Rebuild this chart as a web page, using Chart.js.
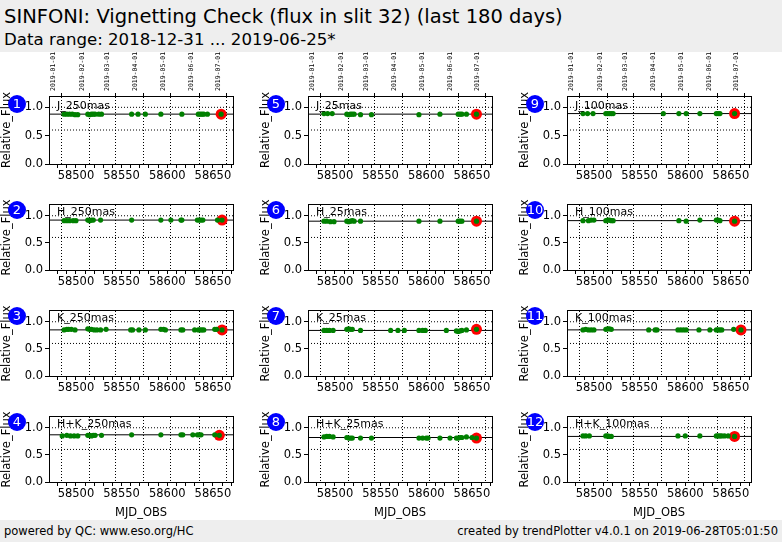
<!DOCTYPE html>
<html><head><meta charset="utf-8">
<script src="https://cdn.jsdelivr.net/npm/chart.js@4.4.0/dist/chart.umd.min.js"></script>
<style>
body{margin:0;width:782px;height:542px;position:relative;overflow:hidden;background:#fff;font-family:"DejaVu Sans",sans-serif}
#hdr{position:absolute;left:0;top:0;width:782px;height:52px;background:#eeeeee}
#t1{position:absolute;left:4px;top:5px;font-size:19.5px;color:#000}
#t2{position:absolute;left:4px;top:30px;font-size:16.6px;color:#000}
#ftr{position:absolute;left:0;top:520px;width:782px;height:22px;background:#eeeeee;font-size:11.5px;z-index:5}
#ftr span{position:absolute;top:4px}
.cv{position:absolute}
.num{position:absolute;width:18px;height:18px;border-radius:9px;background:#0000ff;color:#fff;font-size:13px;text-align:center;line-height:18px;z-index:3}
.lab{position:absolute;font-size:11px;color:#000;z-index:3}
</style></head><body>
<div id="hdr"><div id="t1">SINFONI: Vignetting Check (flux in slit 32) (last 180 days)</div><div id="t2">Data range: 2018-12-31 ... 2019-06-25*</div></div>
<div id="ftr"><span style="left:4px">powered by QC: www.eso.org/HC</span><span style="right:4px">created by trendPlotter v4.0.1 on 2019-06-28T05:01:50</span></div>
<script>
const xMin = 58470.5, xMax = 58672;
const dateTicks = [58484,58515,58543,58574,58604,58635,58665];
const dateLabels = ['2019-01-01','2019-02-01','2019-03-01','2019-04-01','2019-05-01','2019-06-01','2019-07-01'];
const refUpper = 1.0, refLower = 0.6;

const names = ['J_250mas','H_250mas','K_250mas','H+K_250mas','J_25mas','H_25mas','K_25mas','H+K_25mas','J_100mas','H_100mas','K_100mas','H+K_100mas'];
const medians = [0.88,0.92,0.85,0.87,0.88,0.90,0.84,0.82,0.89,0.91,0.85,0.84];

const mjd1 = [58487,58490,58493,58496,58499,58502,58513,58515,58517,58519,58521,58525,58528,58561,58568,58576,58593,58616,58634,58636,58638,58640,58644,58659];
const val1 = [0.88,0.88,0.88,0.88,0.87,0.87,0.88,0.87,0.88,0.88,0.88,0.88,0.88,0.88,0.88,0.88,0.88,0.88,0.88,0.88,0.88,0.88,0.88,0.88];
const mjd2 = [58487,58490,58493,58497,58500,58513,58515,58517,58519,58527,58561,58593,58604,58615,58616,58633,58635,58637,58639,58655,58660];
const val2 = [0.91,0.91,0.91,0.91,0.91,0.92,0.91,0.92,0.92,0.92,0.92,0.92,0.92,0.92,0.92,0.92,0.92,0.92,0.92,0.92,0.92];
const mjd3 = [58487,58490,58492,58495,58499,58513,58515,58517,58520,58523,58527,58533,58560,58562,58569,58576,58593,58596,58598,58615,58617,58630,58634,58636,58638,58640,58652,58654,58660];
const val3 = [0.85,0.86,0.86,0.86,0.85,0.87,0.86,0.86,0.85,0.85,0.85,0.86,0.85,0.85,0.85,0.85,0.86,0.86,0.85,0.85,0.85,0.85,0.85,0.85,0.85,0.85,0.86,0.86,0.85];
const mjd4 = [58485,58490,58494,58498,58502,58513,58515,58517,58519,58521,58528,58561,58593,58615,58617,58628,58633,58635,58637,58652,58657];
const val4 = [0.85,0.86,0.85,0.85,0.85,0.86,0.86,0.85,0.86,0.86,0.86,0.87,0.87,0.87,0.87,0.87,0.87,0.87,0.87,0.87,0.86];
const mjd5 = [58488,58492,58497,58513,58515,58517,58519,58521,58528,58540,58592,58615,58635,58637,58639,58644,58655];
const val5 = [0.89,0.89,0.89,0.88,0.87,0.88,0.88,0.88,0.87,0.87,0.87,0.88,0.88,0.88,0.88,0.88,0.88];
const mjd6 = [58488,58491,58495,58499,58513,58515,58517,58519,58521,58528,58592,58615,58635,58637,58639,58655];
const val6 = [0.90,0.90,0.89,0.89,0.90,0.89,0.90,0.91,0.90,0.90,0.90,0.90,0.90,0.90,0.90,0.90];
const mjd7 = [58488,58491,58494,58498,58513,58515,58517,58519,58528,58561,58569,58576,58592,58596,58599,58622,58633,58635,58637,58639,58644,58655];
const val7 = [0.84,0.84,0.84,0.84,0.86,0.87,0.86,0.86,0.84,0.84,0.84,0.84,0.84,0.84,0.84,0.84,0.83,0.82,0.83,0.84,0.85,0.86];
const mjd8 = [58488,58491,58494,58498,58513,58515,58517,58519,58528,58540,58592,58596,58600,58602,58615,58626,58633,58635,58637,58639,58644,58650,58655];
const val8 = [0.83,0.84,0.84,0.83,0.82,0.81,0.81,0.81,0.81,0.81,0.81,0.81,0.81,0.81,0.81,0.81,0.81,0.81,0.82,0.82,0.83,0.82,0.81];
const mjd9 = [58488,58493,58499,58513,58515,58517,58519,58521,58576,58593,58601,58616,58634,58636,58638,58654];
const val9 = [0.89,0.89,0.89,0.89,0.89,0.89,0.89,0.89,0.89,0.89,0.89,0.89,0.89,0.89,0.89,0.89];
const mjd10 = [58488,58494,58497,58500,58513,58515,58517,58519,58521,58593,58601,58616,58634,58636,58638,58654];
const val10 = [0.91,0.91,0.92,0.92,0.91,0.92,0.92,0.91,0.91,0.91,0.90,0.92,0.92,0.92,0.91,0.90];
const mjd11 = [58488,58491,58494,58497,58500,58513,58515,58517,58519,58560,58567,58569,58592,58595,58598,58601,58615,58627,58634,58636,58638,58640,58653,58661];
const val11 = [0.85,0.86,0.85,0.85,0.85,0.86,0.87,0.87,0.86,0.85,0.85,0.85,0.85,0.85,0.85,0.85,0.85,0.85,0.85,0.85,0.85,0.85,0.86,0.85];
const mjd12 = [58488,58491,58495,58513,58515,58517,58519,58592,58600,58616,58634,58636,58638,58640,58643,58647,58654];
const val12 = [0.85,0.85,0.85,0.85,0.85,0.84,0.84,0.85,0.85,0.85,0.85,0.85,0.85,0.85,0.85,0.85,0.84];

const mjds = [mjd1,mjd2,mjd3,mjd4,mjd5,mjd6,mjd7,mjd8,mjd9,mjd10,mjd11,mjd12];
const vals = [val1,val2,val3,val4,val5,val6,val7,val8,val9,val10,val11,val12];

const tickFont = {family:'DejaVu Sans', size:11.5};
for (let i=0;i<12;i++){
  const col = Math.floor(i/4), row = i%4;
  const plotTop = 96 + 106*row;
  const topH = row===0 ? 46 : 6;
  const botH = row===3 ? 38 : 32;
  const h = topH + 68 + botH;
  const c = document.createElement('canvas');
  c.className='cv';
  c.style.left = (col*259)+'px'; c.style.top = (plotTop-topH)+'px';
  c.style.width='259px'; c.style.height=h+'px';
  c.width=259; c.height=h;
  document.body.appendChild(c);
  const n = document.createElement('div'); n.className='num';
  n.textContent = String(i+1);
  n.style.left=(col*259+8)+'px'; n.style.top=(plotTop-1)+'px';
  document.body.appendChild(n);
  const l = document.createElement('div'); l.className='lab';
  l.textContent = names[i];
  l.style.left=(col*259+57)+'px'; l.style.top=(plotTop+3)+'px';
  document.body.appendChild(l);

  const pts = mjds[i].map((x,k)=>({x:x,y:vals[i][k]}));
  const last = pts[pts.length-1];
  const line = v => [{x:xMin,y:v},{x:xMax,y:v}];
  new Chart(c,{
    type:'scatter',
    data:{datasets:[
      {type:'line',data:line(refUpper),borderColor:'#000',borderWidth:1,borderDash:[1,2],pointRadius:0,order:5},
      {type:'line',data:line(refLower),borderColor:'#000',borderWidth:1,borderDash:[1,2],pointRadius:0,order:5},
      {type:'line',data:line(medians[i]),borderColor:'#000',borderWidth:1,pointRadius:0,order:4},
      {data:[last],pointRadius:5.5,backgroundColor:'#ff0000',borderColor:'#ff0000',borderWidth:0,order:3},
      {data:pts,pointRadius:2.6,backgroundColor:'#008000',borderColor:'#008000',borderWidth:0,order:2}
    ]},
    options:{
      responsive:false, animation:false, devicePixelRatio:1,
      layout:{padding:{left:0,right:26,top:0,bottom:0}},
      plugins:{legend:{display:false},tooltip:{enabled:false}},
      scales:{
        x:{type:'linear',position:'bottom',min:xMin,max:xMax,
          afterBuildTicks:a=>{const t=[];for(let v=58480;v<=58670;v+=10)t.push({value:v});a.ticks=t;},
          afterFit:a=>{a.height=botH;},
          ticks:{color:'#000',font:tickFont,maxRotation:0,autoSkip:false,padding:1,callback:v=>(v%50===0?String(v):'')},
          grid:{display:true,drawOnChartArea:false,drawTicks:true,tickLength:4,color:'#000'},
          border:{display:true,color:'#000',width:1},
          title:{display:row===3,text:'MJD_OBS',color:'#000',font:tickFont,padding:{top:0,bottom:0}}
        },
        x2:{type:'linear',position:'top',min:xMin,max:xMax,
          afterBuildTicks:a=>{a.ticks=dateTicks.map(v=>({value:v}));},
          afterFit:a=>{a.height=topH;},
          ticks:{display:row===0,color:'#000',font:{family:'DejaVu Sans Mono',size:6.5},minRotation:90,maxRotation:90,autoSkip:false,padding:2,
            callback:v=>dateLabels[dateTicks.indexOf(v)]||''},
          grid:{display:true,drawOnChartArea:true,drawTicks:row===0,tickLength:3,color:'#000',borderDash:[1,2]},
          border:{display:true,color:'#000',width:1,dash:[1,2]}
        },
        y:{min:0,max:1.2,
          afterBuildTicks:a=>{a.ticks=[0,0.5,1.0].map(v=>({value:v}));},
          afterFit:a=>{a.width=49;},
          ticks:{color:'#000',font:tickFont,padding:2,callback:v=>v.toFixed(1)},
          grid:{display:true,drawOnChartArea:false,drawTicks:true,tickLength:4,color:'#000'},
          border:{display:true,color:'#000',width:1},
          title:{display:true,text:'Relative_Flux',color:'#000',font:tickFont,padding:{top:0,bottom:2}}
        },
        y2:{position:'right',min:0,max:1.2,afterFit:a=>{a.width=0;},
          ticks:{display:false},grid:{display:false,drawTicks:false},border:{display:true,color:'#000',width:1}}
      }
    }
  });
}
</script>
</body></html>
